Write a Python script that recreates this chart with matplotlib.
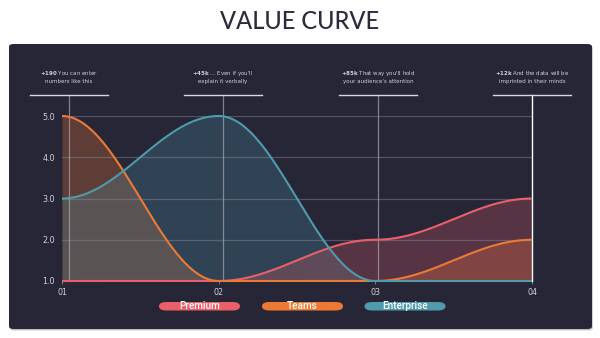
import numpy as np
import matplotlib
matplotlib.use("Agg")
import matplotlib.pyplot as plt
from matplotlib.patches import FancyBboxPatch
from matplotlib.transforms import blended_transform_factory

# ---- data ----
categories = ["01", "02", "03", "04"]
premium = [1, 1, 2, 3]
teams = [5, 1, 1, 2]
enterprise = [3, 5, 1, 1]
yticks = [1.0, 2.0, 3.0, 4.0, 5.0]
series_names = ["Premium", "Teams", "Enterprise"]
note_values = ["+190", "+45k", "+85k", "+12k"]
note_line1 = ["You can enter", "... Even if you'll", "That way you'll hold", "And the data will be"]
note_line2 = ["numbers like this", "explain it verbally", "your audience's attention", "imprinted in their minds"]

# ---- style ----
BG = "#262637"
C_PREM = "#ea5f69"
C_TEAM = "#ec7a35"
C_ENT = "#4f9aab"
TXT = "#cfcfd8"

def smooth(vals, n=60):
    xs, ys = [], []
    for i in range(len(vals) - 1):
        t = np.linspace(0, 1, n, endpoint=(i == len(vals) - 2))
        s = (1 - np.cos(np.pi * t)) / 2
        xs.append(i + t)
        ys.append(vals[i] + (vals[i + 1] - vals[i]) * s)
    return np.concatenate(xs), np.concatenate(ys)

fig = plt.figure(figsize=(6.0, 3.38), dpi=100, facecolor="white")

# title
fig.text(0.5, 0.935, "VALUE CURVE", ha="center", va="center",
         fontsize=17, color="#2b2b3b", family="Lato", fontweight="medium")

# card shadow + card
for off, a in [(2.0, 0.10), (1.0, 0.18)]:
    sh = FancyBboxPatch(((9 + off * 0.5) / 600, 1 - (329 + off) / 338), (592 - 9) / 600, (329 - 44) / 338,
                        boxstyle="round,pad=0,rounding_size=0.008",
                        transform=fig.transFigure, facecolor="black", edgecolor="none",
                        alpha=a, zorder=-6)
    fig.patches.append(sh)
card = FancyBboxPatch((9 / 600, 1 - 329 / 338), (592 - 9) / 600, (329 - 44) / 338,
                      boxstyle="round,pad=0,rounding_size=0.008",
                      transform=fig.transFigure, facecolor=BG, edgecolor="none",
                      linewidth=0, zorder=-5)
fig.patches.append(card)

ax = fig.add_axes([62 / 600, 1 - 281 / 338, (532 - 62) / 600, (281 - 116) / 338])
ax.set_zorder(1)
ax.set_facecolor("none")
ax.set_xlim(0, 3)
ax.set_ylim(1, 5)

x = np.arange(len(categories))
for vals, col, a, z in [(teams, C_TEAM, 0.28, 2), (enterprise, C_ENT, 0.25, 3), (premium, C_PREM, 0.25, 4)]:
    sx, sy = smooth(vals)
    ax.fill_between(sx, 1, sy, color=col, alpha=a, linewidth=0, zorder=z)

for yv in yticks:
    ax.axhline(yv, color="#8a8a9c", alpha=0.45, lw=0.9, zorder=5)

for vals, col in [(premium, C_PREM), (teams, C_TEAM), (enterprise, C_ENT)]:
    sx, sy = smooth(vals)
    ax.plot(sx, sy, color=col, lw=1.5, zorder=7, clip_on=False, solid_capstyle="butt")

for sp in ax.spines.values():
    sp.set_visible(False)
ax.set_xticks(x)
ax.set_xticklabels(categories)
ax.set_yticks(yticks)
ax.set_yticklabels([f"{v:.1f}" for v in yticks])
ax.tick_params(axis="both", colors="#8a8a9c", labelcolor=TXT, labelsize=5.8, length=2, width=0.6, pad=3)
ax.tick_params(axis="y", length=0, pad=5)

# annotation lines
tr = blended_transform_factory(ax.transData, fig.transFigure)
line_x = [0.045, 1.027, 2.017, 3.0]
y_top = 1 - 95 / 338
y_bot = 1 - 281 / 338
for i, lx in enumerate(line_x):
    col = "white" if i == 3 else "#a8a8b8"
    ax.plot([lx, lx], [y_top, y_bot], transform=tr, color=col, lw=1.0 if i == 3 else 0.9,
            alpha=1.0 if i == 3 else 0.7, clip_on=False, zorder=6)
    ax.plot([lx - 0.25, lx + 0.25], [y_top, y_top], transform=tr, color="#d8d8e0", lw=1.0,
            clip_on=False, zorder=6)
    ax.text(lx, 1 - 73 / 338, r"$\bf{" + note_values[i] + "}$ " + note_line1[i],
            transform=tr, ha="center", va="center", fontsize=4, color=TXT)
    ax.text(lx, 1 - 81.5 / 338, note_line2[i], transform=tr, ha="center", va="center",
            fontsize=4, color=TXT)

# legend pills
pill_cx = [199.5, 302.5, 405]
for name, col, cx in zip(series_names, [C_PREM, C_TEAM, C_ENT], pill_cx):
    w, h = 81, 8.5
    p = FancyBboxPatch(((cx - w / 2) / 600, 1 - (302 + h) / 338), w / 600, h / 338,
                       boxstyle="round,pad=0,rounding_size=0.0125",
                       transform=fig.transFigure, facecolor=col, edgecolor="none", zorder=3)
    fig.patches.append(p)
    fig.text(cx / 600, 1 - 306.3 / 338, name, ha="center", va="center", fontsize=7.2,
             color="white", family="Roboto", fontweight="medium", zorder=4)

fig.savefig("out.png", dpi=100, facecolor="white")
